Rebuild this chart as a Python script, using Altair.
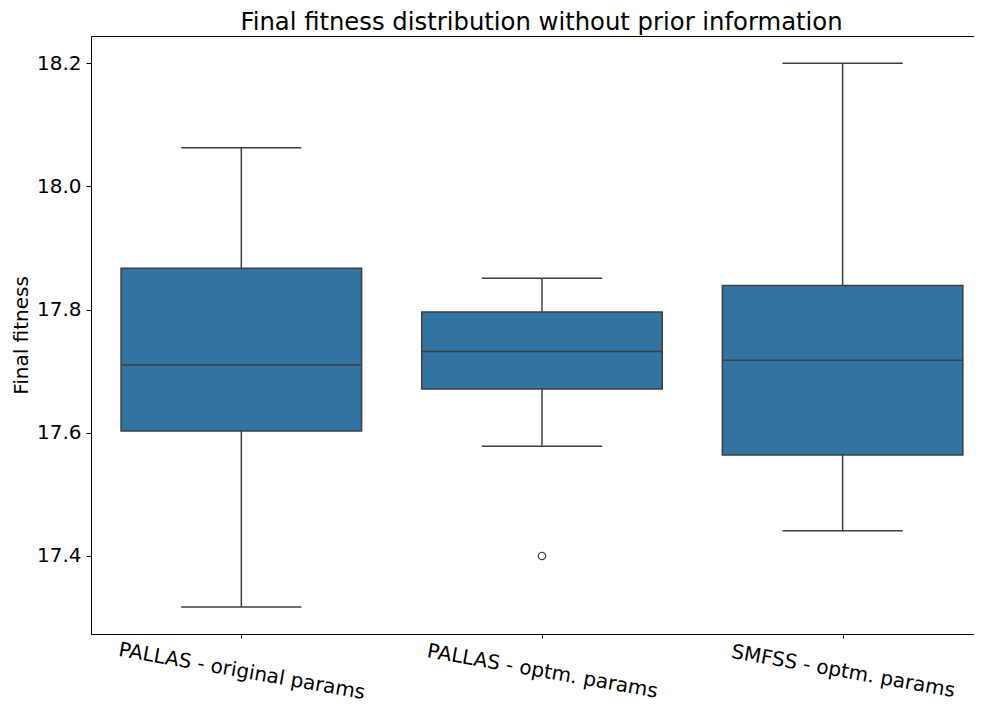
import json
import altair as alt
import pandas as pd

# ---- data ----
categories = ["PALLAS - original params", "PALLAS - optm. params", "SMFSS - optm. params"]
whisker_low = [17.317, 17.578, 17.441]
q1 = [17.603, 17.671, 17.564]
median = [17.710, 17.732, 17.718]
q3 = [17.867, 17.796, 17.839]
whisker_high = [18.063, 17.851, 18.200]
outlier_category = ["PALLAS - optm. params"]
outlier_value = [17.400]
y_ticks = [17.4, 17.6, 17.8, 18.0, 18.2]
title_text = "Final fitness distribution without prior information"
y_title = "Final fitness"

# ---- tables ----
df = pd.DataFrame({
    "category": categories,
    "idx": list(range(len(categories))),
    "low": whisker_low,
    "q1": q1,
    "median": median,
    "q3": q3,
    "high": whisker_high,
})
cat_index = {c: i for i, c in enumerate(categories)}
out = pd.DataFrame({"category": outlier_category, "value": outlier_value})
out["idx"] = out["category"].map(cat_index)

FONT = "DejaVu Sans"
BOX = "#3274a1"
LINE = "#3f3f3f"
LW = 1.5

label_expr = json.dumps(categories) + "[datum.value]"

xscale = alt.Scale(domain=[-0.5, 2.437], nice=False, zero=False)
yscale = alt.Scale(domain=[17.2733, 18.2443], nice=False, zero=False)

x_axis = alt.Axis(
    values=[0, 1, 2], labelExpr=label_expr, labelAngle=10, labelAlign="center",
    labelBaseline="middle", labelPadding=33, tickSize=4, tickColor="black",
    tickWidth=1, domainColor="black", domainWidth=1, labelFontSize=20, labelFont=FONT,
    labelColor="black", title=None, grid=False, labelOverlap=False, labelFlush=False,
    labelLimit=0,
)
y_axis = alt.Axis(
    values=y_ticks, format=".1f", tickSize=5, tickColor="black", tickWidth=1,
    labelPadding=5, labelFontSize=20, labelFont=FONT, labelColor="black",
    domainColor="black", domainWidth=1, title=y_title, titleFontSize=20,
    titleFont=FONT, titleFontWeight="normal", titleColor="black", titlePadding=5,
    grid=False,
)
top_axis = alt.Axis(orient="top", labels=False, ticks=False, title=None,
                    domainColor="black", domainWidth=1, grid=False,
                    minExtent=0, maxExtent=0)

base = alt.Chart(df).transform_calculate(
    left="datum.idx - 0.4", right="datum.idx + 0.4",
    capl="datum.idx - 0.2", capr="datum.idx + 0.2",
)

whisk_lo = base.mark_rule(color=LINE, strokeWidth=LW).encode(
    x=alt.X("idx:Q", scale=xscale, axis=x_axis),
    y=alt.Y("low:Q", scale=yscale, axis=y_axis),
    y2="q1:Q",
)
whisk_hi = base.mark_rule(color=LINE, strokeWidth=LW).encode(
    x=alt.X("idx:Q", scale=xscale), y=alt.Y("q3:Q", scale=yscale), y2="high:Q",
)
cap_lo = base.mark_rule(color=LINE, strokeWidth=LW).encode(
    x=alt.X("capl:Q", scale=xscale), x2="capr:Q", y=alt.Y("low:Q", scale=yscale),
)
cap_hi = base.mark_rule(color=LINE, strokeWidth=LW).encode(
    x=alt.X("capl:Q", scale=xscale), x2="capr:Q", y=alt.Y("high:Q", scale=yscale),
)
box = base.mark_rect(fill=BOX, stroke=LINE, strokeWidth=LW).encode(
    x=alt.X("left:Q", scale=xscale), x2="right:Q",
    y=alt.Y("q1:Q", scale=yscale), y2="q3:Q",
)
med = base.mark_rule(color=LINE, strokeWidth=LW).encode(
    x=alt.X("left:Q", scale=xscale), x2="right:Q", y=alt.Y("median:Q", scale=yscale),
)
outl = alt.Chart(out).mark_point(shape="circle", filled=False, stroke=LINE,
                                 strokeWidth=1.2, size=55, opacity=1).encode(
    x=alt.X("idx:Q", scale=xscale, axis=top_axis),
    y=alt.Y("value:Q", scale=yscale),
)

main = alt.layer(whisk_lo, whisk_hi, cap_lo, cap_hi, box, med)
chart = alt.layer(main, outl).resolve_axis(x="independent").properties(
    width=883,
    height=598,
    autosize=alt.AutoSizeParams(type="none"),
    padding={"left": 83, "top": 28, "right": 0, "bottom": 70},
    title=alt.TitleParams(title_text, fontSize=24.3, fontWeight="normal", font=FONT,
                          anchor="middle", baseline="alphabetic", offset=-18, dx=9,
                          color="black"),
).configure_view(stroke=None).configure(font=FONT)

chart.save("out.html", embed_options={"renderer": "svg", "actions": False})
